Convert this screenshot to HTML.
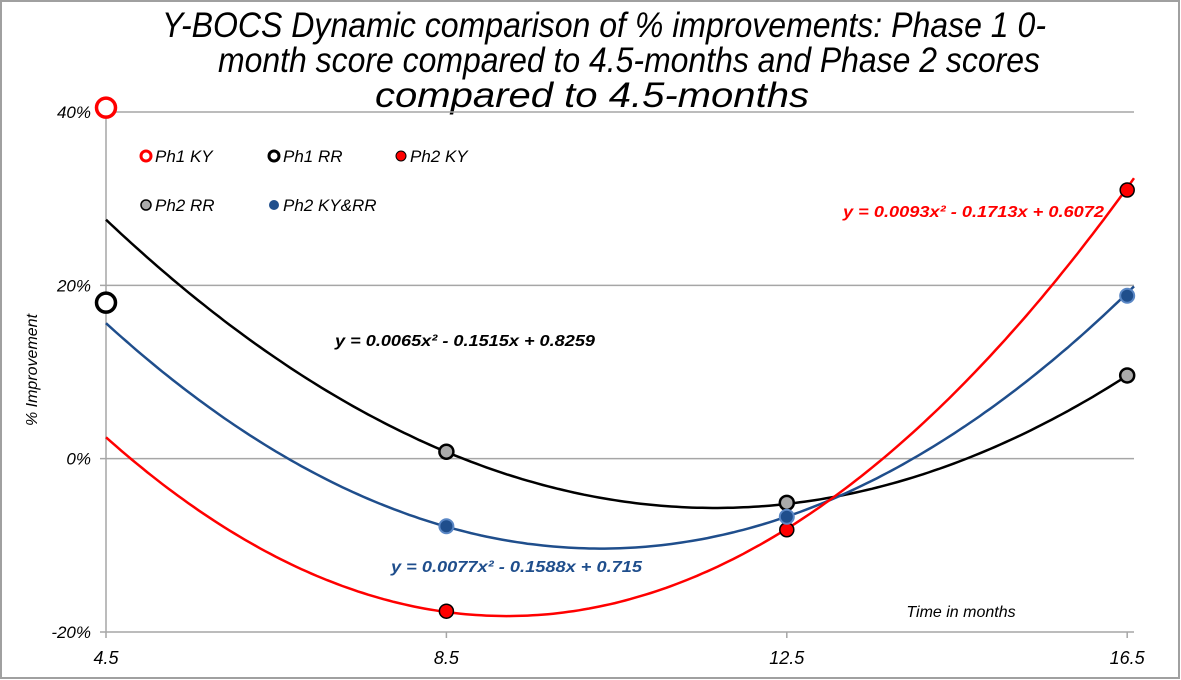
<!DOCTYPE html>
<html><head><meta charset="utf-8"><style>
html,body{margin:0;padding:0;background:#fff}
svg{display:block;font-family:"Liberation Sans",sans-serif}
</style></head><body>
<svg id="chart" width="1181" height="680" viewBox="0 0 1181 680">
<rect x="1" y="1" width="1178" height="677" fill="#fff" stroke="#a0a0a0" stroke-width="2"/>
<g font-style="italic" font-size="35" text-anchor="middle" fill="#000">
<text x="604" y="37" textLength="884" lengthAdjust="spacingAndGlyphs">Y-BOCS Dynamic comparison of % improvements: Phase 1 0-</text>
<text x="629" y="72" textLength="822" lengthAdjust="spacingAndGlyphs">month score compared to 4.5-months and Phase 2 scores</text>
<text x="592" y="107" textLength="434" lengthAdjust="spacingAndGlyphs">compared to 4.5-months</text>
</g>
<g id="grid"></g>
<g id="axes"></g>
<g id="curves"></g>
<g id="points"></g>
<text x="37" y="370" transform="rotate(-90 37 370)" text-anchor="middle" font-style="italic" font-size="16">% Improvement</text>
<text x="961" y="617" text-anchor="middle" font-style="italic" font-size="16">Time in months</text>
<g font-style="italic" font-size="17">
<g><circle cx="146" cy="156" r="5" fill="#fff" stroke="#f00" stroke-width="3"/><text x="155" y="162">Ph1 KY</text></g>
<g><circle cx="274" cy="156" r="5" fill="#fff" stroke="#000" stroke-width="3"/><text x="283" y="162">Ph1 RR</text></g>
<g><circle cx="401" cy="156" r="5" fill="#f00" stroke="#000" stroke-width="1"/><text x="410" y="162">Ph2 KY</text></g>
<g><circle cx="146" cy="205" r="5" fill="#aaa" stroke="#000" stroke-width="1.5"/><text x="155" y="211">Ph2 RR</text></g>
<g><circle cx="274" cy="205" r="5" fill="#1f4e8c"/><text x="283" y="211">Ph2 KY&amp;RR</text></g>
</g>
<g font-style="italic" font-weight="bold" font-size="16">
<text x="335" y="346" fill="#000" textLength="260" lengthAdjust="spacingAndGlyphs">y = 0.0065x² - 0.1515x + 0.8259</text>
<text x="391" y="572" fill="#1f4e8c" textLength="251" lengthAdjust="spacingAndGlyphs">y = 0.0077x² - 0.1588x + 0.715</text>
<text x="843" y="217" fill="#f00" textLength="261" lengthAdjust="spacingAndGlyphs">y = 0.0093x² - 0.1713x + 0.6072</text>
</g>
</svg>
<script>
const xTicks=[4.5,8.5,12.5,16.5];
const yTicks=[-20,0,20,40];
const ph1KY=[[4.5,40.5]];
const ph1RR=[[4.5,18.0]];
const ph2KY=[[8.5,-17.6],[12.5,-8.2],[16.5,31.0]];
const ph2RR=[[8.5,0.8],[12.5,-5.1],[16.5,9.6]];
const ph2KYRR=[[8.5,-7.8],[12.5,-6.7],[16.5,18.8]];
const coefKY=[0.0093,-0.1713,0.6072];
const coefRR=[0.0065,-0.1515,0.8259];
const coefKYRR=[0.0077,-0.1588,0.715];

const NS='http://www.w3.org/2000/svg';
const X0=106,X1=1134,XMIN=4.5,XMAX=16.58;
const Y0=632,Y1=112,YMIN=-20,YMAX=40;
function sx(v){return X0+(v-XMIN)/(XMAX-XMIN)*(X1-X0);}
function sy(v){return Y0-(v-YMIN)/(YMAX-YMIN)*(Y0-Y1);}
function mk(tag,attrs,parent){const e=document.createElementNS(NS,tag);for(const k in attrs)e.setAttribute(k,attrs[k]);parent.appendChild(e);return e;}
const grid=document.getElementById('grid'),axes=document.getElementById('axes');
yTicks.forEach(t=>{
  const l=mk('line',{x1:X0-6,x2:X1,y1:sy(t),y2:sy(t),stroke:'#a6a6a6','stroke-width':1.5},grid);
  
  
  const tx=mk('text',{x:X0-15,y:sy(t)+6,'text-anchor':'end','font-style':'italic','font-size':17},axes);
  tx.textContent=t+'%';
  
  
});
const ya=mk('line',{x1:X0,x2:X0,y1:Y1,y2:Y0,stroke:'#a6a6a6','stroke-width':1.5},axes);


xTicks.forEach(t=>{
  const l=mk('line',{x1:sx(t),x2:sx(t),y1:Y0,y2:Y0+6,stroke:'#a6a6a6','stroke-width':1.5},axes);
  
  
  const tx=mk('text',{x:sx(t),y:Y0+32,'text-anchor':'middle','font-style':'italic','font-size':18},axes);
  tx.textContent=String(t);
  
  
});
const curves=document.getElementById('curves');
function curve(c,color,name){
  let d='';
  for(let i=0;i<=200;i++){const x=XMIN+(XMAX-XMIN)*i/200;const y=(c[0]*x*x+c[1]*x+c[2])*100;d+=(i?'L':'M')+sx(x).toFixed(1)+','+sy(y).toFixed(1);}
  const p=mk('path',{d:d,fill:'none',stroke:color,'stroke-width':2.5},curves);
  
  
}
curve(coefRR,'#000','trendline-ph2-rr');
curve(coefKYRR,'#1f4e8c','trendline-ph2-ky-rr');
curve(coefKY,'#f00','trendline-ph2-ky');
const pts=document.getElementById('points');
function series(arr,r,fill,stroke,sw,name){
  arr.forEach(p=>{
    const c=mk('circle',{cx:sx(p[0]),cy:sy(p[1]),r:r,fill:fill,stroke:stroke,'stroke-width':sw},pts);
    
    
  });
}
series(ph1KY,9.5,'#fff','#f00',3.5,'point-ph1-ky');
series(ph1RR,9.5,'#fff','#000',3.5,'point-ph1-rr');
series(ph2RR,7,'#aaa','#000',2.5,'point-ph2-rr');
series(ph2KY,7,'#f00','#000',1.5,'point-ph2-ky');
series(ph2KYRR,7,'#1f4e8c','#5a87c5',2,'point-ph2-ky-rr');
</script>
</body></html>
